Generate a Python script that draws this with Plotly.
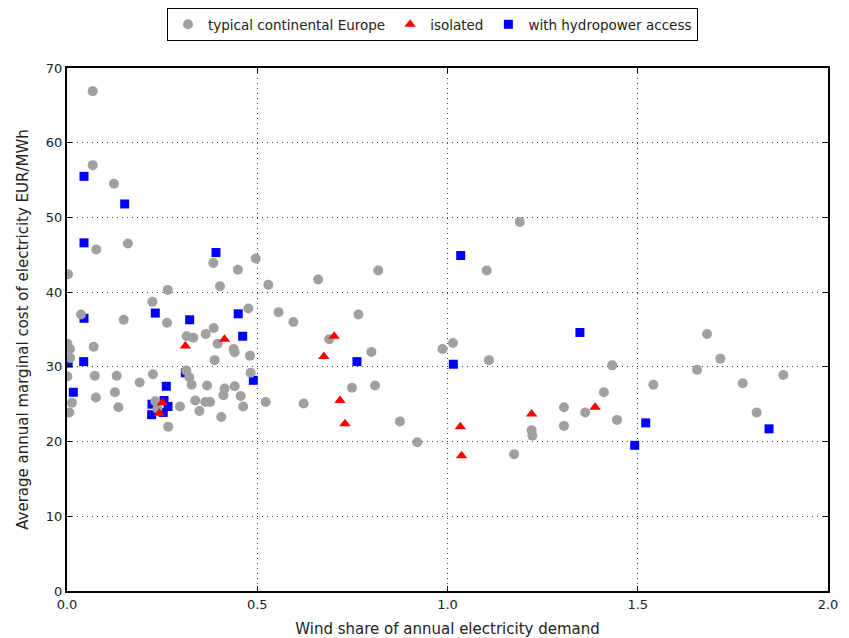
import plotly.graph_objects as go

# typical continental Europe (grey circles)
typ_x = [0.0675, 0.0675, 0.1235, 0.077, 0.160, 0.496, 0.3846, 0.449, 0.0026, 0.402,
         0.2646, 0.2243, 0.0368, 0.149, 0.263, 0.4766, 0.3855, 0.3645, 0.3145, 0.332,
         0.396, 0.438, 0.4406, 0.481, 0.388, 0.001, 0.008, 0.008, 0.070, 0.001,
         0.073, 0.1305, 0.226, 0.3136, 0.3215, 0.3276, 0.4827, 0.191, 0.368, 0.4144,
         0.4406, 0.076, 0.126, 0.013, 0.411, 0.4565, 0.232, 0.297, 0.337, 0.3636,
         0.376, 0.463, 0.135, 0.2375, 0.348, 0.4055, 0.006, 0.266, 0.818, 0.660,
         0.529, 0.556, 0.766, 0.595, 0.689, 0.800, 0.987, 0.749, 0.8095, 0.522,
         0.622, 0.875, 0.9206, 1.190, 1.103, 1.0145, 1.109, 1.433, 1.411, 1.306,
         1.362, 1.4455, 1.306, 1.221, 1.223, 1.175, 1.682, 1.717, 1.656, 1.8826,
         1.541, 1.776, 1.8125]
typ_y = [66.9, 57.0, 54.5, 45.7, 46.5, 44.5, 43.9, 43.0, 42.4, 40.8,
         40.3, 38.7, 37.0, 36.3, 35.9, 37.8, 35.2, 34.4, 34.1, 33.9,
         33.1, 32.4, 31.95, 31.5, 30.9, 33.1, 32.4, 31.2, 32.7, 28.7,
         28.8, 28.8, 29.0, 29.5, 28.6, 27.6, 29.2, 27.9, 27.5, 27.1,
         27.4, 25.9, 26.6, 25.2, 26.2, 26.1, 25.4, 24.7, 25.5, 25.3,
         25.3, 24.7, 24.6, 24.4, 24.1, 23.3, 23.9, 22.0, 42.9, 41.7,
         41.0, 37.3, 37.0, 36.0, 33.7, 32.0, 32.4, 27.2, 27.5, 25.3,
         25.1, 22.7, 19.9, 49.4, 42.9, 33.2, 30.9, 30.2, 26.6, 24.6,
         23.9, 22.9, 22.1, 21.5, 20.8, 18.3, 34.4, 31.1, 29.6, 28.9,
         27.6, 27.8, 23.9]

# isolated (red triangles)
iso_x = [0.311, 0.414, 0.2505, 0.2426, 0.702, 0.675, 0.7175, 0.7306, 1.388, 1.221, 1.0337, 1.037]
iso_y = [32.8, 33.7, 25.2, 23.8, 34.1, 31.4, 25.5, 22.4, 24.6, 23.7, 22.0, 18.1]

# with hydropower access (blue squares)
hyd_x = [0.0447, 0.1516, 0.0447, 0.3916, 0.0447, 0.232, 0.3224, 0.450, 0.4617, 0.003,
         0.0438, 0.311, 0.4897, 0.261, 0.0166, 0.255, 0.2234, 0.2655, 0.253, 0.2225,
         0.762, 1.0347, 1.348, 1.0153, 1.521, 1.845, 1.492]
hyd_y = [55.5, 51.8, 46.6, 45.3, 36.5, 37.2, 36.3, 37.1, 34.1, 30.5,
         30.7, 29.2, 28.2, 27.4, 26.6, 25.5, 25.0, 24.7, 23.9, 23.6,
         30.7, 44.9, 34.6, 30.35, 22.5, 21.7, 19.5]

x_ticks = [0.0, 0.5, 1.0, 1.5, 2.0]
x_ticklabels = ["0.0", "0.5", "1.0", "1.5", "2.0"]
y_ticks = [0, 10, 20, 30, 40, 50, 60, 70]

FONT = "DejaVu Sans"

fig = go.Figure()
fig.add_trace(go.Scatter(
    x=hyd_x, y=hyd_y, mode="markers", name="with hydropower access",
    marker=dict(symbol="square", size=9, color="#0000ff", line=dict(width=0)),
    legendrank=3))
fig.add_trace(go.Scatter(
    x=typ_x, y=typ_y, mode="markers", name="typical continental Europe",
    marker=dict(symbol="circle", size=10, color="#a0a0a0", line=dict(width=0)),
    legendrank=1))
fig.add_trace(go.Scatter(
    x=iso_x, y=iso_y, mode="markers", name="isolated",
    marker=dict(symbol="triangle-up", size=10, color="#ff0000", line=dict(width=0)),
    legendrank=2))

axis_common = dict(
    showline=True, linecolor="black", linewidth=2, mirror="allticks",
    ticks="inside", ticklen=5, tickwidth=1, tickcolor="black",
    showgrid=True, gridcolor="#444444", griddash="1px,4px", gridwidth=1,
    zeroline=False, automargin=False,
    tickfont=dict(family=FONT, size=13, color="#222222"),
)

fig.update_xaxes(range=[0, 2.0], tickvals=x_ticks, ticktext=x_ticklabels,
                 title=dict(text="Wind share of annual electricity demand",
                            font=dict(family=FONT, size=15, color="#222222"), standoff=14),
                 **axis_common)
fig.update_yaxes(range=[0, 70], tickvals=y_ticks,
                 title=dict(text="Average annual marginal cost of electricity EUR/MWh",
                            font=dict(family=FONT, size=15, color="#222222"), standoff=14),
                 **axis_common)

W, H = 841, 630
fig.update_layout(
    width=W, height=H,
    margin=dict(l=59, r=21, t=60, b=47, autoexpand=False),
    paper_bgcolor="white", plot_bgcolor="white",
    font=dict(family=FONT, size=13, color="#222222"),
    legend=dict(orientation="h", xref="container", yref="container",
                x=424.5 / W, xanchor="center", y=1.0, yanchor="top",
                bordercolor="black", borderwidth=1, bgcolor="white",
                font=dict(family=FONT, size=13.5, color="#222222"),
                traceorder="normal", tracegroupgap=0),
    showlegend=True,
)

fig.write_html("out.html")
